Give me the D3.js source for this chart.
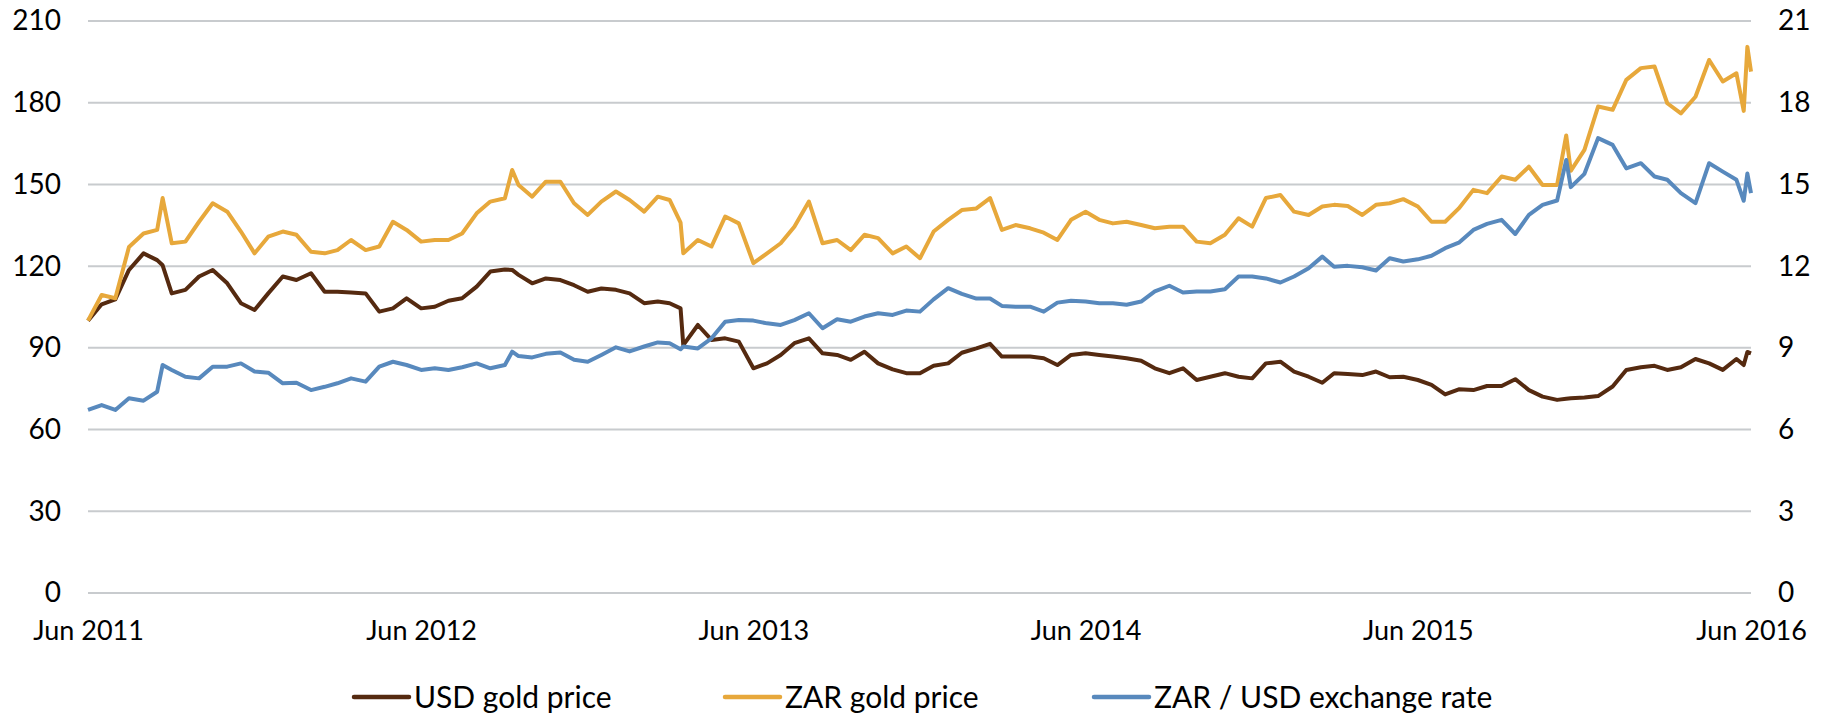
<!DOCTYPE html>
<html>
<head>
<meta charset="utf-8">
<script src="https://d3js.org/d3.v7.min.js"></script>
<style>
  body { margin: 0; background: #fff; }
  text { font-family: Lato, "Open Sans", sans-serif; fill: #000; }
</style>
</head>
<body>
<div id="chart"></div>
<script>
// ---------------- DATA ----------------
const dates = [
  "2011-06-01","2011-06-16","2011-07-01","2011-07-16","2011-08-01","2011-08-16","2011-08-22",
  "2011-09-01","2011-09-16","2011-10-01","2011-10-16","2011-11-01","2011-11-16","2011-12-01","2011-12-16",
  "2012-01-01","2012-01-16","2012-02-01","2012-02-16","2012-03-01","2012-03-16","2012-04-01","2012-04-16",
  "2012-05-01","2012-05-16","2012-06-01","2012-06-16","2012-07-01","2012-07-16","2012-08-01","2012-08-16",
  "2012-09-01","2012-09-09","2012-09-16","2012-10-01","2012-10-16","2012-11-01","2012-11-16","2012-12-01","2012-12-16",
  "2013-01-01","2013-01-16","2013-02-01","2013-02-16","2013-03-01","2013-03-13","2013-03-16","2013-04-01","2013-04-16",
  "2013-05-01","2013-05-16","2013-06-01","2013-06-16","2013-07-01","2013-07-16","2013-08-01","2013-08-16",
  "2013-09-01","2013-09-16","2013-10-01","2013-10-16","2013-11-01","2013-11-16","2013-12-01","2013-12-16",
  "2014-01-01","2014-01-16","2014-02-01","2014-02-16","2014-03-01","2014-03-16","2014-04-01","2014-04-16",
  "2014-05-01","2014-05-16","2014-06-01","2014-06-16","2014-07-01","2014-07-16","2014-08-01","2014-08-16",
  "2014-09-01","2014-09-16","2014-10-01","2014-10-16","2014-11-01","2014-11-16","2014-12-01","2014-12-16",
  "2015-01-01","2015-01-16","2015-02-01","2015-02-16","2015-03-01","2015-03-16","2015-04-01","2015-04-16",
  "2015-05-01","2015-05-16","2015-06-01","2015-06-16","2015-07-01","2015-07-16","2015-08-01","2015-08-16",
  "2015-09-01","2015-09-16","2015-10-01","2015-10-16","2015-11-01","2015-11-11","2015-11-16","2015-12-01","2015-12-16",
  "2016-01-01","2016-01-16","2016-02-01","2016-02-16","2016-03-01","2016-03-16","2016-04-01","2016-04-16",
  "2016-05-01","2016-05-16","2016-05-24","2016-05-28","2016-06-01"
];

// USD gold price, indexed (left axis)
const usdGold = [
  100, 106, 107.8, 118.6, 124.7, 122.2, 120.3,
  110, 111.3, 116.2, 118.6, 113.7, 106.4, 103.9, 110,
  116.2, 114.9, 117.4, 110.6, 110.6, 110.3, 110, 103.3,
  104.5, 108.2, 104.5, 105.1, 107.3, 108.2, 112.5, 118,
  118.8, 118.6, 116.8, 113.7, 115.5, 114.9, 113, 110.6, 111.8,
  111.3, 110, 106.4, 107, 106.4, 104.5, 91, 98.4, 92.9,
  93.5, 92.3, 82.5, 84.3, 87.4, 91.7, 93.5, 88,
  87.4, 85.6, 88.6, 84.3, 82.1, 80.7, 80.7, 83.4,
  84.3, 88.2, 89.8, 91.5, 86.8, 86.8, 86.8, 86.2,
  83.7, 87.4, 88, 87.4, 86.8, 86.2, 85.3, 82.5,
  80.7, 82.5, 78.2, 79.4, 80.7, 79.4, 78.8, 84.3,
  84.9, 81.3, 79.4, 77.2, 80.7, 80.4, 80, 81.3,
  79.2, 79.4, 78.2, 76.4, 72.9, 74.8, 74.5, 76,
  76, 78.5, 74.5, 72.1, 70.9, 71.3, 71.5, 71.8, 72.3,
  75.8, 81.9, 82.9, 83.4, 81.9, 82.9, 85.9, 84.3,
  81.9, 85.9, 83.7, 88.5, 88
];

// ZAR gold price, indexed (left axis)
const zarGold = [
  100, 109.4, 108.2, 127, 132, 133.3, 145,
  128.4, 129, 136.3, 143.1, 140, 132.7, 124.7, 130.8,
  132.7, 131.5, 125.3, 124.7, 125.9, 129.6, 125.9, 127.2,
  136.3, 133.3, 129, 129.6, 129.6, 132, 139.4, 143.7,
  144.9, 155.3, 149.8, 145.5, 151, 151, 143.1, 138.8, 143.7,
  147.4, 144.3, 140, 145.5, 144.3, 136, 124.7, 129.6, 127.2,
  138.2, 135.7, 121.1, 124.7, 128.4, 134.5, 143.7, 128.4,
  129.6, 125.9, 131.5, 130.3, 124.7, 127.2, 122.9, 132.7,
  137, 140.6, 141.2, 145, 133.3, 135.1, 133.9, 132.3,
  129.6, 137, 140, 137, 135.7, 136.3, 135.1, 133.9,
  134.5, 134.5, 129, 128.4, 131.5, 137.6, 134.5, 145,
  146.1, 140, 138.8, 141.9, 142.5, 142.1, 138.8, 142.5,
  143.1, 144.6, 141.9, 136.3, 136.3, 141.2, 148, 146.8,
  152.9, 151.7, 156.5, 149.8, 149.8, 168, 155, 162.7, 178.6,
  177.4, 188.4, 192.7, 193.3, 179.8, 176.1, 182.2, 195.7,
  187.8, 190.8, 177, 200.5, 191.4
];

// ZAR / USD exchange rate (right axis)
const zarUsd = [
  6.72, 6.90, 6.72, 7.15, 7.06, 7.39, 8.37,
  8.19, 7.94, 7.88, 8.31, 8.31, 8.43, 8.13, 8.09,
  7.70, 7.72, 7.45, 7.57, 7.70, 7.88, 7.76, 8.31,
  8.49, 8.37, 8.19, 8.25, 8.19, 8.29, 8.43, 8.25,
  8.37, 8.86, 8.70, 8.65, 8.78, 8.83, 8.56, 8.49, 8.74,
  9.02, 8.87, 9.05, 9.20, 9.17, 8.95, 9.05, 8.98, 9.35,
  9.96, 10.02, 10.00, 9.90, 9.84, 10.02, 10.27, 9.72,
  10.05, 9.96, 10.15, 10.27, 10.21, 10.37, 10.33, 10.78,
  11.19, 10.98, 10.81, 10.81, 10.54, 10.51, 10.51, 10.33,
  10.66, 10.73, 10.70, 10.64, 10.64, 10.58, 10.70, 11.07,
  11.28, 11.03, 11.07, 11.07, 11.15, 11.62, 11.62, 11.55,
  11.40, 11.62, 11.92, 12.35, 11.98, 12.01, 11.96, 11.84,
  12.29, 12.17, 12.25, 12.38, 12.66, 12.86, 13.33, 13.55,
  13.70, 13.18, 13.88, 14.25, 14.41, 15.9, 14.9, 15.39, 16.70,
  16.45, 15.59, 15.78, 15.29, 15.17, 14.68, 14.31, 15.78,
  15.47, 15.17, 14.4, 15.4, 14.68
];

const leftTicks = [0, 30, 60, 90, 120, 150, 180, 210];
const rightTicks = [0, 3, 6, 9, 12, 15, 18, 21];
const xTickDates = ["2011-06-01", "2012-06-01", "2013-06-01", "2014-06-01", "2015-06-01", "2016-06-01"];
const xTickLabels = ["Jun 2011", "Jun 2012", "Jun 2013", "Jun 2014", "Jun 2015", "Jun 2016"];

const seriesNames = ["USD gold price", "ZAR gold price", "ZAR / USD exchange rate"];
const seriesColors = ["#552a10", "#e7a83b", "#5889bd"];

// ---------------- CHART ----------------
const width = 1829;
const height = 715;
const plotLeft = 88, plotRight = 1751, plotTop = 21, plotBottom = 593;

const parse = d3.timeParse("%Y-%m-%d");
const dateValues = dates.map(parse);

const x = d3.scaleTime()
  .domain([parse("2011-06-01"), parse("2016-06-01")])
  .range([plotLeft, plotRight]);
const yLeft = d3.scaleLinear().domain([0, 210]).range([plotBottom, plotTop]);
const yRight = d3.scaleLinear().domain([0, 21]).range([plotBottom, plotTop]);

const svg = d3.select("#chart").append("svg")
  .attr("width", width)
  .attr("height", height);

// gridlines
svg.append("g")
  .selectAll("line")
  .data(leftTicks)
  .join("line")
  .attr("x1", plotLeft)
  .attr("x2", plotRight)
  .attr("y1", d => yLeft(d))
  .attr("y2", d => yLeft(d))
  .attr("stroke", "#c8cbce")
  .attr("stroke-width", 2);

// left axis
const leftAxis = d3.axisLeft(yLeft).tickValues(leftTicks).tickSize(0).tickPadding(0);
svg.append("g")
  .attr("transform", "translate(61,0)")
  .call(leftAxis)
  .call(g => g.select(".domain").remove())
  .selectAll("text")
  .style("font-size", "28px")
  .attr("fill", "#000");

// right axis
const rightAxis = d3.axisRight(yRight).tickValues(rightTicks).tickSize(0).tickPadding(0);
svg.append("g")
  .attr("transform", "translate(1778,0)")
  .call(rightAxis)
  .call(g => g.select(".domain").remove())
  .selectAll("text")
  .style("font-size", "28px")
  .attr("fill", "#000");

// bottom axis
const bottomAxis = d3.axisBottom(x)
  .tickValues(xTickDates.map(parse))
  .tickFormat((d, i) => xTickLabels[i])
  .tickSize(0)
  .tickPadding(0);
svg.append("g")
  .attr("transform", `translate(0,${plotBottom})`)
  .call(bottomAxis)
  .call(g => g.select(".domain").remove())
  .selectAll("text")
  .attr("dy", null)
  .attr("y", 47)
  .style("font-size", "27px")
  .attr("fill", "#000");

// lines
const lineLeft = d3.line()
  .x((d, i) => x(dateValues[i]))
  .y(d => yLeft(d));
const lineRight = d3.line()
  .x((d, i) => x(dateValues[i]))
  .y(d => yRight(d));

svg.append("path")
  .datum(usdGold)
  .attr("d", lineLeft)
  .attr("fill", "none")
  .attr("stroke", seriesColors[0])
  .attr("stroke-width", 4)
  .attr("stroke-linejoin", "round");

svg.append("path")
  .datum(zarGold)
  .attr("d", lineLeft)
  .attr("fill", "none")
  .attr("stroke", seriesColors[1])
  .attr("stroke-width", 4)
  .attr("stroke-linejoin", "round");

svg.append("path")
  .datum(zarUsd)
  .attr("d", lineRight)
  .attr("fill", "none")
  .attr("stroke", seriesColors[2])
  .attr("stroke-width", 4)
  .attr("stroke-linejoin", "round");

// legend
const legendX = [354, 725, 1094];
const legendY = 697;
const legend = svg.append("g")
  .selectAll("g")
  .data(seriesNames)
  .join("g")
  .attr("transform", (d, i) => `translate(${legendX[i]},${legendY})`);

legend.append("line")
  .attr("x1", 0)
  .attr("x2", 55)
  .attr("stroke", (d, i) => seriesColors[i])
  .attr("stroke-width", 4.5)
  .attr("stroke-linecap", "round");

legend.append("text")
  .attr("x", 60)
  .attr("dy", "0.35em")
  .style("font-size", "30px")
  .text(d => d);
</script>
</body>
</html>
